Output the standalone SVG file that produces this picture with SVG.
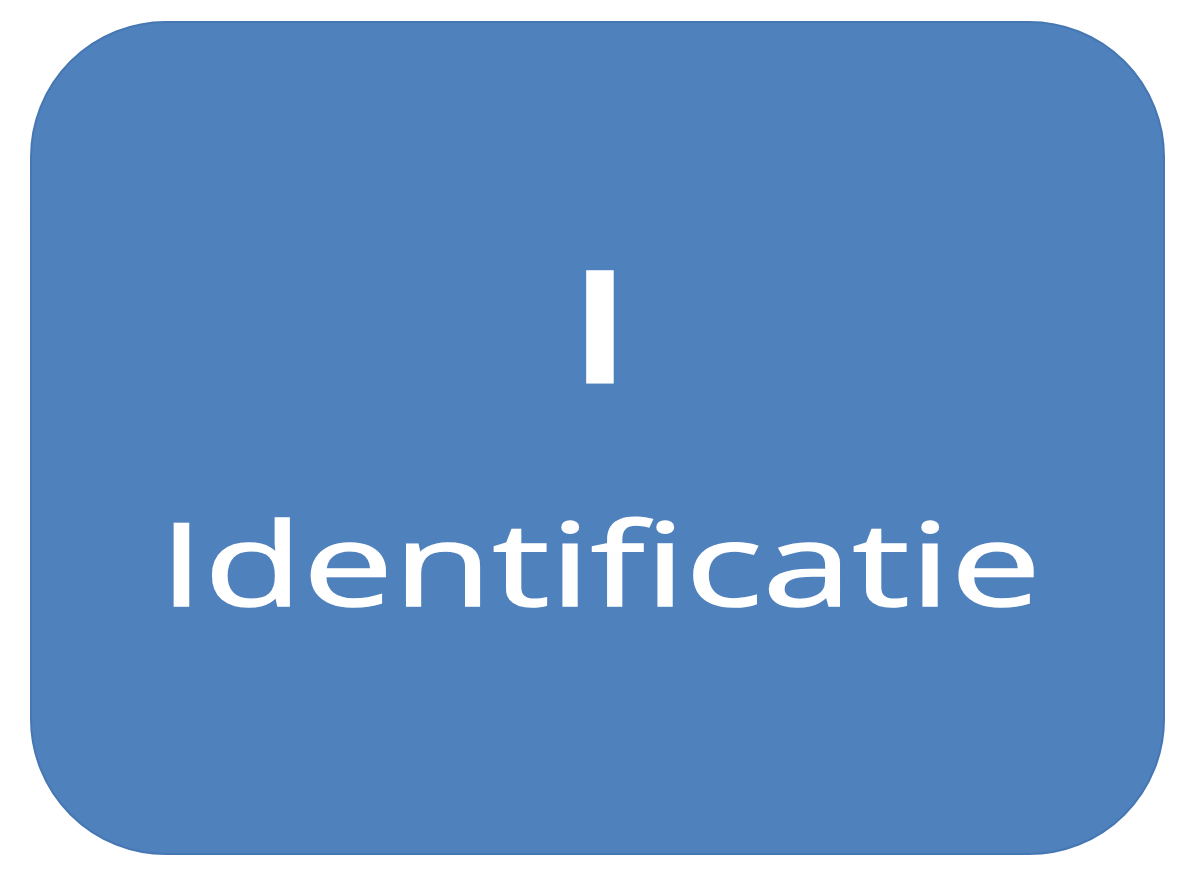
<svg xmlns="http://www.w3.org/2000/svg" width="1200" height="881" viewBox="0 0 1200 881">
<style>
.box{fill:#4F81BD;stroke:#4677B3;stroke-width:2}
.t{fill:#FFFFFF;stroke:#FFFFFF;font-family:"Open Sans","DejaVu Sans",sans-serif;text-anchor:middle}
</style>
<rect width="1200" height="881" fill="#FFFFFF"/>
<g id="node-identificatie">
<rect class="box" x="31" y="22" width="1133" height="832" rx="135" ry="135"/>
<text class="t" x="600" y="376" font-size="138" stroke-width="15" stroke-linejoin="miter" textLength="40" lengthAdjust="spacingAndGlyphs">I</text>
<text class="t" x="600" y="606" font-size="115" stroke-width="1.5" textLength="882" lengthAdjust="spacingAndGlyphs">Identificatie</text>
</g>
<g id="connectors"></g>
</svg>
